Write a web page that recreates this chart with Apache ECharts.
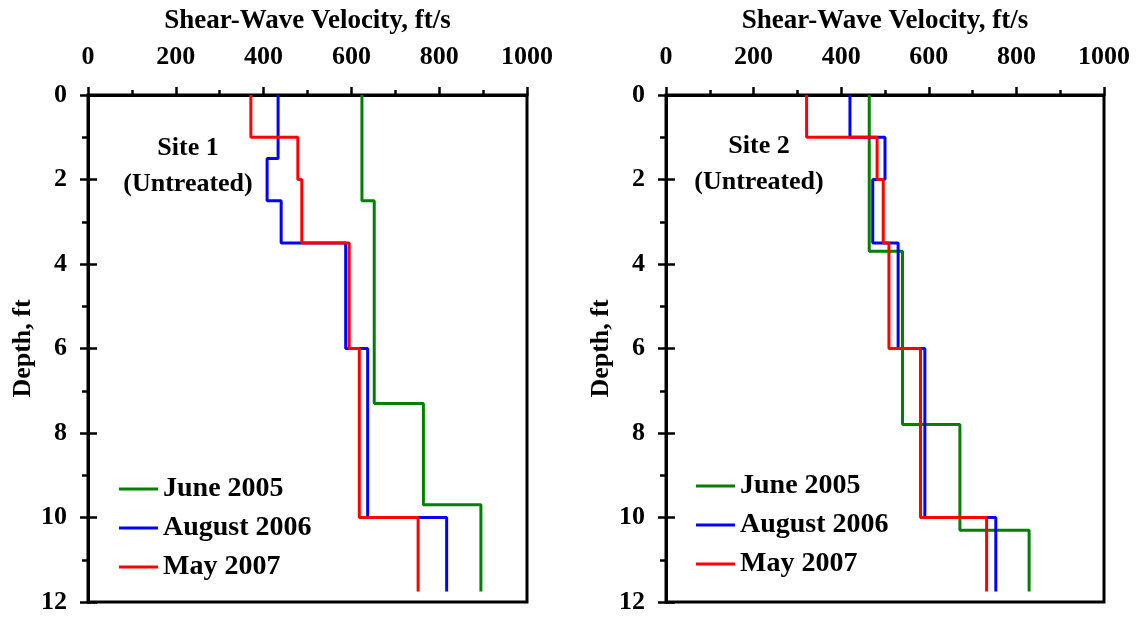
<!DOCTYPE html>
<html><head><meta charset="utf-8">
<script src="https://cdn.jsdelivr.net/npm/echarts@6/dist/echarts.min.js"></script>
<style>html,body{margin:0;padding:0;background:#fff}#c{width:1138px;height:617px}</style>
</head><body><div id="c"></div>
<script>
// ---- data ----
const seriesNames = ['June 2005', 'August 2006', 'May 2007'];
const seriesColors = ['#008000', '#0000ff', '#ff0000'];
const xTickLabels = ['0', '200', '400', '600', '800', '1000'];
const yTickLabels = ['0', '2', '4', '6', '8', '10', '12'];
const siteLabels = ['Site 1\n(Untreated)', 'Site 2\n(Untreated)'];

// layer velocities (ft/s) and layer boundary depths (ft)
const site1June2005Vel = [624, 652, 764, 895];
const site1June2005Depth = [0, 2.5, 7.3, 9.7, 11.75];
const site1Aug2006Vel = [433, 408, 440, 587, 637, 817];
const site1Aug2006Depth = [0, 1.5, 2.5, 3.5, 6, 10, 11.75];
const site1May2007Vel = [371, 478, 487, 595, 618, 752];
const site1May2007Depth = [0, 1, 2, 3.5, 6, 10, 11.75];

const site2June2005Vel = [464, 540, 671, 829];
const site2June2005Depth = [0, 3.7, 7.8, 10.3, 11.75];
const site2Aug2006Vel = [420, 500, 472, 530, 591, 753];
const site2Aug2006Depth = [0, 1, 2, 3.5, 6, 10, 11.75];
const site2May2007Vel = [321, 482, 496, 509, 581, 732];
const site2May2007Depth = [0, 1, 2, 3.5, 6, 10, 11.75];

// ---- build ----
function profile(vel, depth) {
  const pts = [];
  for (let i = 0; i < vel.length; i++) {
    pts.push([vel[i], depth[i]]);
    pts.push([vel[i], depth[i + 1]]);
  }
  return pts;
}
const FONT = "'Liberation Serif', 'Times New Roman', serif";
const txt = (size) => ({ fontFamily: FONT, fontWeight: 'bold', fontSize: size, color: '#000' });

const grids = [
  { left: 88, top: 95, width: 439, height: 507 },
  { left: 666, top: 95, width: 438, height: 507 }
];

function xAx(g) {
  return {
    type: 'value', gridIndex: g, position: 'top', min: 0, max: 1000, interval: 200,
    name: 'Shear-Wave Velocity, ft/s', nameLocation: 'middle', nameGap: 60,
    nameTextStyle: txt(27),
    axisLine: { show: true, onZero: false, lineStyle: { color: '#000', width: 3 } },
    axisTick: { show: true, length: 8, lineStyle: { color: '#000', width: 2.5 } },
    minorTick: { show: true, splitNumber: 2, length: 5, lineStyle: { color: '#000', width: 2.5 } },
    axisLabel: Object.assign(txt(26), { margin: 25, formatter: (v) => xTickLabels[v / 200] }),
    splitLine: { show: false }, minorSplitLine: { show: false }
  };
}
function yAx(g) {
  return {
    type: 'value', gridIndex: g, inverse: true, min: 0, max: 12, interval: 2,
    name: 'Depth, ft', nameLocation: 'middle', nameGap: 52, nameRotate: 90,
    nameTextStyle: txt(26),
    axisLine: { show: true, onZero: false, lineStyle: { color: '#000', width: 3 } },
    axisTick: { show: true, length: 8, lineStyle: { color: '#000', width: 2.5 } },
    minorTick: { show: true, splitNumber: 2, length: 6, lineStyle: { color: '#000', width: 2.5 } },
    axisLabel: Object.assign(txt(26), { margin: 21, formatter: (v) => yTickLabels[v / 2] }),
    splitLine: { show: false }, minorSplitLine: { show: false }
  };
}
function yInner(g) {
  return {
    type: 'value', gridIndex: g, inverse: true, min: 0, max: 12, interval: 2, position: 'left',
    axisLine: { show: false, onZero: false },
    axisTick: { show: true, inside: true, length: 9, lineStyle: { color: '#000', width: 2.5 } },
    axisLabel: { show: false }, splitLine: { show: false }
  };
}

const data = [
  [profile(site1June2005Vel, site1June2005Depth), profile(site1Aug2006Vel, site1Aug2006Depth), profile(site1May2007Vel, site1May2007Depth)],
  [profile(site2June2005Vel, site2June2005Depth), profile(site2Aug2006Vel, site2Aug2006Depth), profile(site2May2007Vel, site2May2007Depth)]
];
const series = [];
for (let g = 0; g < 2; g++) {
  for (let s = 0; s < 3; s++) {
    series.push({
      type: 'line', name: seriesNames[s], xAxisIndex: g, yAxisIndex: g,
      data: data[g][s], symbol: 'none', showSymbol: false, animation: false,
      lineStyle: { color: seriesColors[s], width: 3 }, itemStyle: { color: seriesColors[s] },
      z: 2 + s
    });
  }
}
function legend(left, top) {
  return {
    orient: 'vertical', left: left, top: top, itemWidth: 39, itemHeight: 3, itemGap: 9,
    icon: 'rect', padding: 0, selectedMode: false, data: seriesNames,
    textStyle: Object.assign(txt(28), { lineHeight: 30 })
  };
}

const chart = echarts.init(document.getElementById('c'), null, { renderer: 'canvas' });
chart.setOption({
  animation: false,
  backgroundColor: '#fff',
  grid: grids.map(g => Object.assign({ show: true, borderColor: '#000', borderWidth: 3, containLabel: false }, g)),
  xAxis: [xAx(0), xAx(1)],
  yAxis: [yAx(0), yAx(1), yInner(0), yInner(1)],
  legend: [legend(119, 474), legend(696, 471)],
  graphic: [
    { type: 'text', x: 188, y: 166, style: { text: siteLabels[0], align: 'center', verticalAlign: 'middle', lineHeight: 36, font: "bold 26px " + FONT, fill: '#000' } },
    { type: 'text', x: 759, y: 164, style: { text: siteLabels[1], align: 'center', verticalAlign: 'middle', lineHeight: 36, font: "bold 26px " + FONT, fill: '#000' } }
  ],
  series: series
});
</script></body></html>
